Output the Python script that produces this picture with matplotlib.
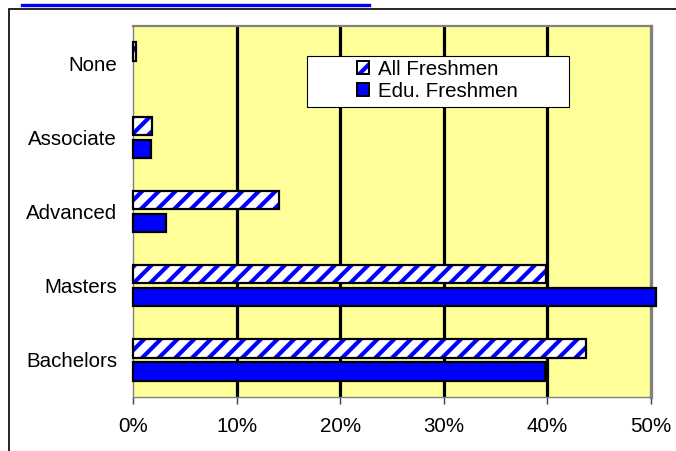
import numpy as np
import matplotlib
matplotlib.use('Agg')
import matplotlib.pyplot as plt
from matplotlib.patches import Rectangle, Patch
from matplotlib.lines import Line2D
from matplotlib.ticker import FuncFormatter

plt.rc('font', family=['Liberation Sans', 'DejaVu Sans'], size=14.8)
plt.rc('hatch', linewidth=3.0)

categories = ['None', 'Associate', 'Advanced', 'Masters', 'Bachelors']
all_fresh = [0.3, 1.8, 14.1, 39.9, 43.7]
edu_fresh = [0.0, 1.7, 3.2, 50.5, 39.8]
xticks = [0, 10, 20, 30, 40, 50]
series_names = ['All Freshmen', 'Edu. Freshmen']

blue = '#0000FF'
fig = plt.figure(figsize=(6.76, 4.51), dpi=100)
ax = fig.add_axes([133/676, 1-397/451, (651-133)/676, (397-26)/451])
ax.set_facecolor('#FFFF99')

y = np.arange(len(categories))
h = 0.25
off = 0.155

# hatched bars: fill+hatch first, then black outline on top
ax.barh(y - off, all_fresh, height=h, color='white', edgecolor=blue,
        hatch='//', linewidth=0, zorder=3, clip_on=False)
ax.barh(y - off, all_fresh, height=h, facecolor='none', edgecolor='black',
        linewidth=1.6, zorder=4, clip_on=False)
edu_edges = ['black' if v > 0 else 'none' for v in edu_fresh]
ax.barh(y + off, edu_fresh, height=h, color=blue, edgecolor=edu_edges,
        linewidth=1.6, zorder=4, clip_on=False)

for t in xticks[1:-1]:
    ax.axvline(t, color='black', lw=2.3, zorder=1)

ax.set_xlim(xticks[0], xticks[-1])
ax.set_ylim(len(categories) - 0.5, -0.5)
ax.set_xticks(xticks)
ax.xaxis.set_major_formatter(FuncFormatter(lambda v, p: '%d%%' % v))
ax.set_yticks(y)
ax.set_yticklabels(categories)
ax.tick_params(axis='y', length=0, pad=11.5)
ax.tick_params(axis='x', length=5, width=1, color='#404040', pad=9.4)

for s in ['left', 'bottom']:
    ax.spines[s].set_color('#808080')
    ax.spines[s].set_linewidth(1.0)
ax.spines['top'].set_color('#808080')
ax.spines['top'].set_linewidth(1.6)
ax.spines['right'].set_color('#808080')
ax.spines['right'].set_linewidth(2.4)

# legend
h_all = (Patch(facecolor='white', edgecolor=blue, hatch='//', linewidth=0),
         Patch(facecolor='none', edgecolor='black', linewidth=1.4))
h_edu = Patch(facecolor=blue, edgecolor='black', linewidth=1.4)
fig.patches.append(Rectangle((307/676, 1-107/451), (569-307)/676, (107-56)/451,
                             transform=fig.transFigure, facecolor='white',
                             edgecolor='black', linewidth=0.8, zorder=5))
leg = fig.legend([h_all, h_edu], series_names, loc='upper left',
                 bbox_to_anchor=(357/676, 1-60/451), frameon=False,
                 borderpad=0, borderaxespad=0, handlelength=0.6, handleheight=0.6,
                 handletextpad=0.4, labelspacing=0.15)
leg.set_zorder(6)

# outer chart border and cut-off link underline
fig.patches.append(Rectangle((8.5/676, -0.5), 2, 1-8.5/451+0.5,
                             transform=fig.transFigure, facecolor='none',
                             edgecolor='black', linewidth=1.2))
fig.lines.append(Line2D([22/676, 369/676], [1-4.5/451, 1-4.5/451],
                        transform=fig.transFigure, color=blue, lw=2.4))

fig.savefig('out.png', dpi=100)
